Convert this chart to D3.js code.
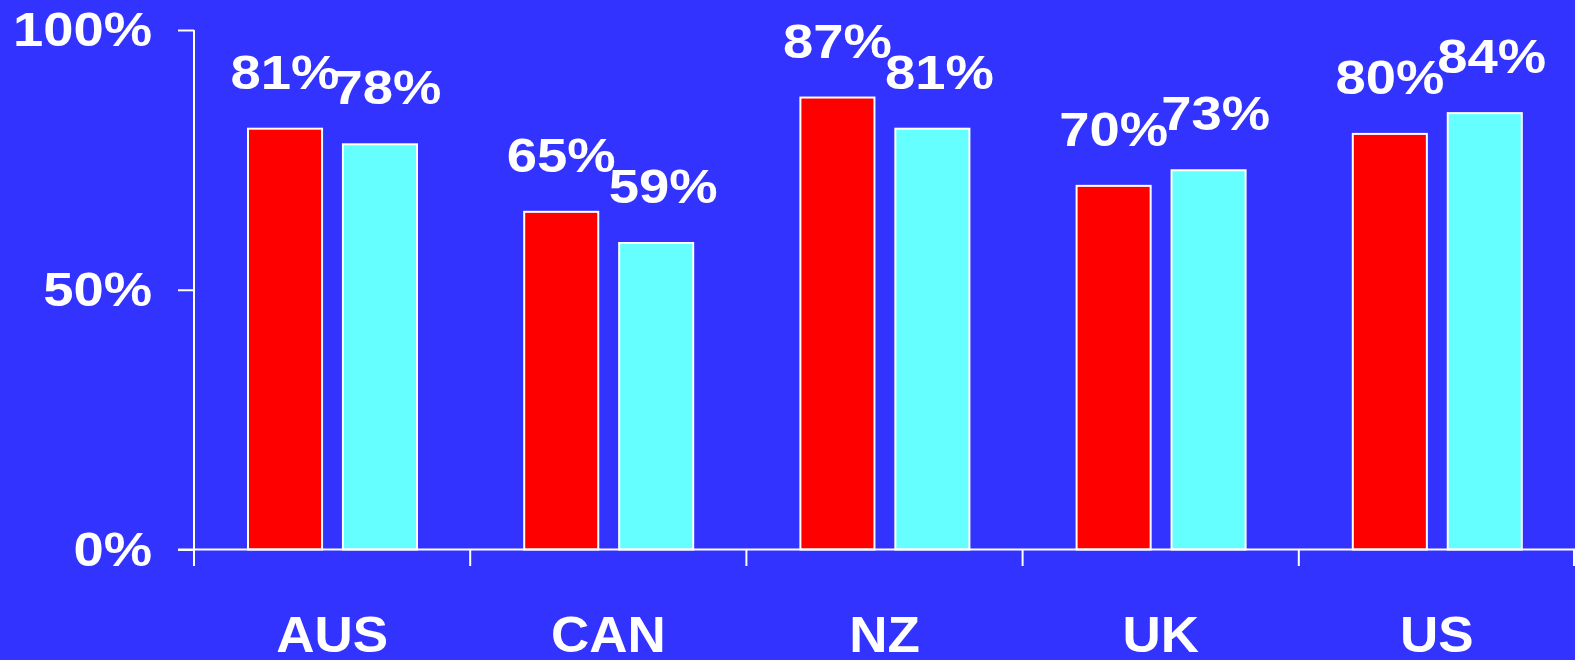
<!DOCTYPE html>
<html>
<head>
<meta charset="utf-8">
<script src="https://cdn.jsdelivr.net/npm/d3@7"></script>
<style>
  html, body { margin: 0; padding: 0; background: #3333FF; }
  svg { display: block; }
  text { font-family: "Liberation Sans", Arial, sans-serif; font-weight: bold; fill: #fff; }
</style>
</head>
<body>
<svg id="chart" width="1575" height="660"></svg>
<script>
const categories = ["AUS", "CAN", "NZ", "UK", "US"];
const seriesNames = ["Series A", "Series B"];
const seriesA = [81, 65, 87, 70, 80];
const seriesB = [78, 59, 81, 73, 84];
const yTicks = [0, 50, 100];
const colors = ["#FF0000", "#66FFFF"];

const W = 1575, H = 660;
const margin = { left: 194, right: 0, top: 30, bottom: 110.5 };
const svg = d3.select("#chart");

const x = d3.scaleBand().domain(categories).range([margin.left, W - margin.right]).padding(0);
const x1 = d3.scaleBand().domain(seriesNames).range([54, 223]).paddingInner(0.22).paddingOuter(0);
const y = d3.scaleLinear().domain([0, 100]).range([H - margin.bottom, margin.top]);

const data = categories.map((c, i) => ({ cat: c, vals: [seriesA[i], seriesB[i]] }));

function stretch(sel, k) {
  sel.each(function () {
    const len = this.getComputedTextLength();
    d3.select(this).attr("textLength", len * k).attr("lengthAdjust", "spacingAndGlyphs");
  });
}

// bars
const groups = svg.append("g").selectAll("g").data(data).join("g")
  .attr("transform", d => `translate(${x(d.cat)},0)`);

groups.selectAll("rect").data(d => d.vals.map((v, j) => ({ v, j }))).join("rect")
  .attr("x", d => x1(seriesNames[d.j]))
  .attr("y", d => y(d.v))
  .attr("width", x1.bandwidth())
  .attr("height", d => y(0) - y(d.v))
  .attr("fill", d => colors[d.j])
  .attr("stroke", "#fff")
  .attr("stroke-width", 2);

// value labels
const labelShift = [0, 7];
const vlabels = groups.selectAll("text.val").data(d => d.vals.map((v, j) => ({ v, j }))).join("text")
  .attr("class", "val")
  .attr("x", d => x1(seriesNames[d.j]) + x1.bandwidth() / 2 + labelShift[d.j])
  .attr("y", d => y(d.v) - 40)
  .attr("text-anchor", "middle")
  .style("font-size", "49px")
  .text(d => d.v + "%");
stretch(vlabels, 1.11);

// y axis
const yAxis = svg.append("g")
  .attr("transform", `translate(${margin.left},0)`)
  .call(d3.axisLeft(y).tickValues(yTicks).tickSize(16).tickPadding(26).tickSizeOuter(0).tickFormat(d => d + "%"));
yAxis.select(".domain").remove();
yAxis.selectAll("line").attr("stroke", "#fff").attr("stroke-width", 2);
yAxis.selectAll("text").style("font-size", "49px").attr("fill", "#fff")
  .style("font-family", '"Liberation Sans", Arial, sans-serif').style("font-weight", "bold");
stretch(yAxis.selectAll("text"), 1.11);

// y axis line (extends below baseline)
svg.append("line")
  .attr("x1", margin.left).attr("x2", margin.left)
  .attr("y1", y(100)).attr("y2", y(0) + 16.5)
  .attr("stroke", "#fff").attr("stroke-width", 2);

// x axis baseline
svg.append("line")
  .attr("x1", margin.left - 16).attr("x2", W)
  .attr("y1", y(0)).attr("y2", y(0))
  .attr("stroke", "#fff").attr("stroke-width", 2);

// category boundary ticks
const bounds = categories.slice(1).map(c => x(c)).concat([x.range()[1] - 1]);
svg.append("g").selectAll("line").data(bounds).join("line")
  .attr("x1", d => d).attr("x2", d => d)
  .attr("y1", y(0)).attr("y2", y(0) + 16.5)
  .attr("stroke", "#fff").attr("stroke-width", 2);

// category labels
const xAxis = svg.append("g")
  .attr("transform", `translate(0,${y(0)})`)
  .call(d3.axisBottom(x).tickSize(0).tickPadding(67));
xAxis.select(".domain").remove();
xAxis.selectAll("text").style("font-size", "50px").attr("fill", "#fff")
  .style("font-family", '"Liberation Sans", Arial, sans-serif').style("font-weight", "bold");
stretch(xAxis.selectAll("text"), 1.06);
</script>
</body>
</html>
